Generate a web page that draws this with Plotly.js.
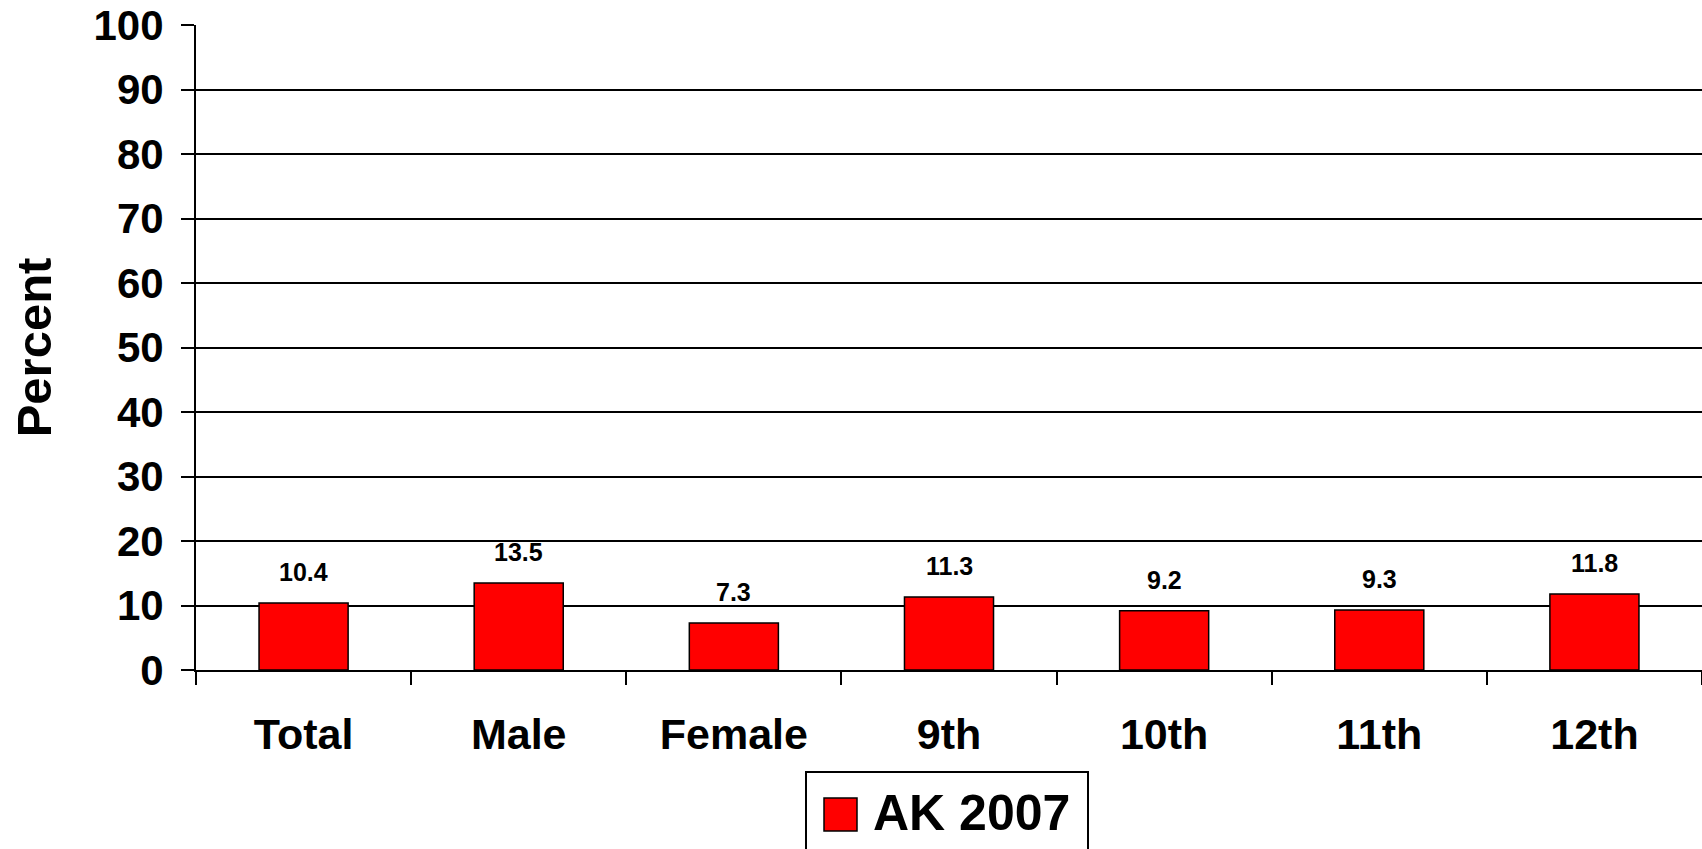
<!DOCTYPE html>
<html>
<head>
<meta charset="utf-8">
<script src="https://cdn.plot.ly/plotly-3.0.1.min.js"></script>
<style>
  html, body { margin: 0; padding: 0; background: #fff; }
  #chart { width: 1702px; height: 849px; }
</style>
</head>
<body>
<div id="chart"></div>
<script>
// ---- data ----
const categories = ["Total", "Male", "Female", "9th", "10th", "11th", "12th"];
const ak2007 = [10.4, 13.5, 7.3, 11.3, 9.2, 9.3, 11.8];
const seriesName = "AK 2007";
const yTickVals = [0, 10, 20, 30, 40, 50, 60, 70, 80, 90, 100];
const yTitle = "Percent";

// ---- layout helpers (pixel -> paper) ----
const W = 1702, H = 849;
const M = { l: 196, r: 0, t: 25, b: 179 };
const PW = W - M.l - M.r, PH = H - M.t - M.b;
const px = x => (x - M.l) / PW;
const py = y => (H - M.b - y) / PH;

const FONT = "Liberation Sans, Arial, Helvetica, sans-serif";
const barColor = "#FF0000";

const trace = {
  type: "bar",
  x: categories,
  y: ak2007,
  name: seriesName,
  marker: { color: barColor, line: { color: "#000", width: 1.5 } },
  showlegend: false,
  hoverinfo: "x+y"
};

const valueLabels = categories.map((c, i) => ({
  x: c, y: ak2007[i], xref: "x", yref: "y",
  text: ak2007[i].toFixed(1),
  showarrow: false, yanchor: "middle", yshift: 31,
  font: { family: FONT, size: 25, color: "#000", weight: "bold" }
}));

const legendText = {
  x: px(871), y: py(813), xref: "paper", yref: "paper",
  xanchor: "left", yanchor: "middle",
  text: seriesName, showarrow: false,
  font: { family: FONT, size: 50, color: "#000", weight: "bold" }
};

const layout = {
  width: W, height: H,
  margin: M,
  paper_bgcolor: "#fff",
  plot_bgcolor: "#fff",
  bargap: 0.586,
  showlegend: false,
  font: { family: FONT, color: "#000" },
  xaxis: {
    type: "category",
    showline: true, linecolor: "#000", linewidth: 2,
    ticks: "outside", tickson: "boundaries", ticklen: 13, tickwidth: 1.5, tickcolor: "#000",
    tickfont: { family: FONT, size: 43, color: "#000", weight: "bold" },
    ticklabelstandoff: 25,
    showgrid: false, zeroline: false, fixedrange: true
  },
  yaxis: {
    range: [0, 100],
    tickvals: yTickVals,
    showline: true, linecolor: "#000", linewidth: 2,
    ticks: "outside", ticklen: 13, tickwidth: 1.5, tickcolor: "#000",
    tickfont: { family: FONT, size: 42, color: "#000", weight: "bold" },
    ticklabelstandoff: 9,
    showgrid: true, gridcolor: "#000", gridwidth: 2,
    zeroline: false, fixedrange: true,
    title: { text: yTitle, standoff: 26, font: { family: FONT, size: 49, color: "#000", weight: "bold" } }
  },
  shapes: [
    { type: "rect", xref: "paper", yref: "paper",
      x0: px(806), x1: px(1088), y0: py(862), y1: py(772),
      line: { color: "#000", width: 2 }, fillcolor: "rgba(0,0,0,0)" },
    { type: "rect", xref: "paper", yref: "paper",
      x0: px(824), x1: px(857), y0: py(831), y1: py(798),
      line: { color: "#000", width: 1.5 }, fillcolor: barColor }
  ],
  annotations: valueLabels.concat([legendText])
};

Plotly.newPlot("chart", [trace], layout, { displayModeBar: false, staticPlot: false });
</script>
</body>
</html>
